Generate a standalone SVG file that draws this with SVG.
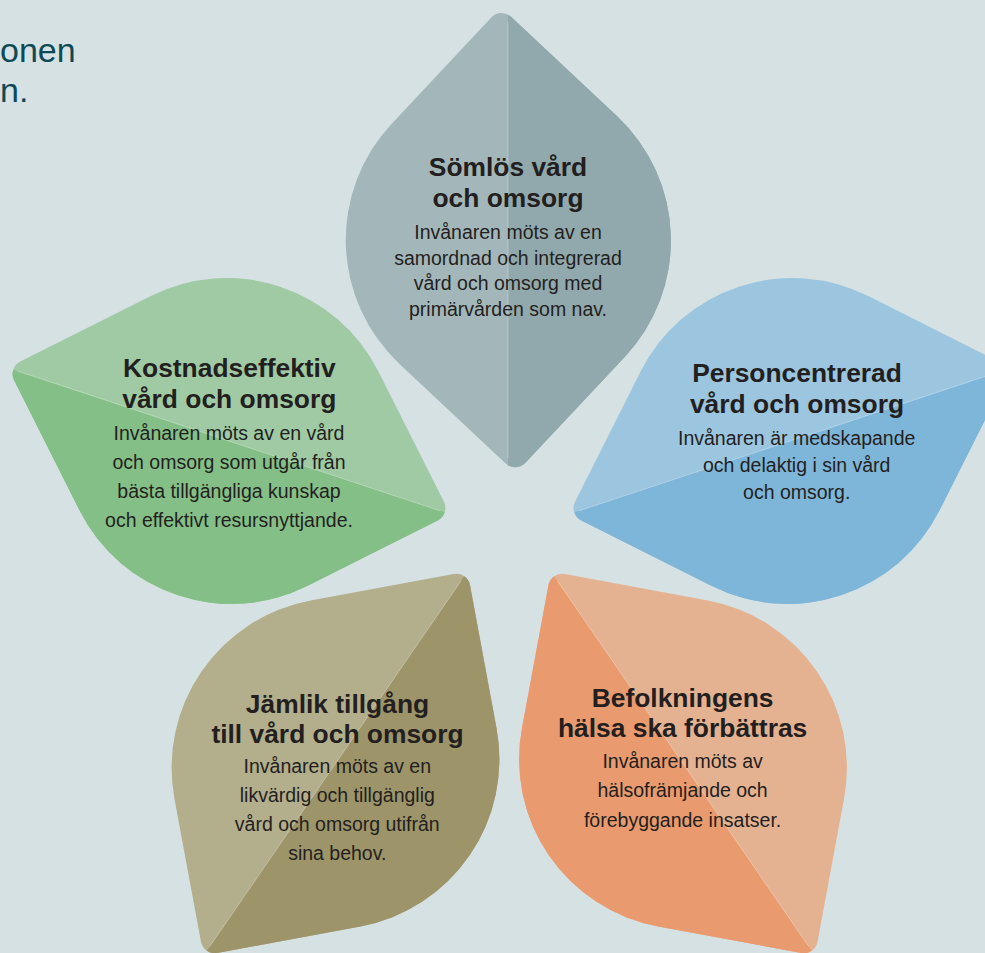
<svg xmlns="http://www.w3.org/2000/svg" xmlns:xlink="http://www.w3.org/1999/xlink" width="985" height="953" viewBox="0 0 985 953">
  <style>
    .title { font-family: "Liberation Sans", Arial, sans-serif; font-weight: bold; font-size: 26.4px; fill: #231f20; text-anchor: middle; }
    .body { font-family: "Liberation Sans", Arial, sans-serif; font-size: 19.5px; fill: #231f20; text-anchor: middle; }
    .intro { font-family: "Liberation Sans", Arial, sans-serif; font-size: 34px; fill: #0d4a56; }
    .seam { stroke: #ffffff; stroke-opacity: 0.35; stroke-width: 0.8; fill: none; }
  </style>
  <defs>
    <path id="petal" d="M-223.1,9.9 A14,14 0 0 1 -223.1,-9.9 L-120.2,-112.8 A170,170 0 0 1 120.2,-112.8 L223.1,-9.9 A14,14 0 0 1 223.1,9.9 L120.2,112.8 A170,170 0 0 1 -120.2,112.8 Z"/>
    <path id="hn" d="M-227.2,0 A14,14 0 0 1 -223.1,-9.9 L-120.2,-112.8 A170,170 0 0 1 120.2,-112.8 L223.1,-9.9 A14,14 0 0 1 227.2,0 Z"/>
    <path id="hp" d="M-227.2,0 A14,14 0 0 0 -223.1,9.9 L-120.2,112.8 A170,170 0 0 0 120.2,112.8 L223.1,9.9 A14,14 0 0 0 227.2,0 Z"/>
    <clipPath id="clipTop" clipPathUnits="userSpaceOnUse">
      <rect x="508" y="0" width="220" height="490"/>
    </clipPath>
  </defs>

  <rect x="0" y="0" width="985" height="953" fill="#d5e1e3"/>

  <g id="intro">
    <text class="intro" x="0" y="61.7">onen</text>
    <text class="intro" x="0" y="101.7">n.</text>
  </g>

  <g id="petal-somlos">
    <use xlink:href="#petal" href="#petal" transform="translate(508.35,240.15) rotate(-91.85)" fill="#a3b7ba"/>
    <g clip-path="url(#clipTop)">
      <use xlink:href="#petal" href="#petal" transform="translate(508.35,240.15) rotate(-91.85)" fill="#91a9ad"/>
    </g>
    <line class="seam" x1="508" y1="22" x2="508" y2="458"/>
    <text class="title" x="508" y="176">Sömlös vård</text>
    <text class="title" x="508" y="206.5">och omsorg</text>
    <text class="body" x="508" y="239">Invånaren möts av en</text>
    <text class="body" x="508" y="264.5">samordnad och integrerad</text>
    <text class="body" x="508" y="290">vård och omsorg med</text>
    <text class="body" x="508" y="315.5">primärvården som nav.</text>
  </g>

  <g id="petal-kostnad">
    <g transform="translate(229,441) rotate(198.3)">
      <use xlink:href="#petal" href="#petal" fill="#9fcaa3"/>
      <use xlink:href="#hn" href="#hn" fill="#85bf88"/>
      <line class="seam" x1="-222" y1="0" x2="222" y2="0"/>
    </g>
    <text class="title" x="229.3" y="377.3">Kostnadseffektiv</text>
    <text class="title" x="229.3" y="407.7">vård och omsorg</text>
    <text class="body" x="229" y="440">Invånaren möts av en vård</text>
    <text class="body" x="229" y="469">och omsorg som utgår från</text>
    <text class="body" x="229" y="498.3">bästa tillgängliga kunskap</text>
    <text class="body" x="229" y="527.3">och effektivt resursnyttjande.</text>
  </g>

  <g id="petal-person">
    <g transform="translate(790,441) rotate(-18.3)">
      <use xlink:href="#petal" href="#petal" fill="#9cc5df"/>
      <use xlink:href="#hp" href="#hp" fill="#7eb6da"/>
      <line class="seam" x1="-222" y1="0" x2="222" y2="0"/>
    </g>
    <text class="title" x="797" y="381.7">Personcentrerad</text>
    <text class="title" x="797" y="413.3">vård och omsorg</text>
    <text class="body" x="796.7" y="445">Invånaren är medskapande</text>
    <text class="body" x="796.7" y="471.7">och delaktig i sin vård</text>
    <text class="body" x="796.7" y="499.3">och omsorg.</text>
  </g>

  <g id="petal-jamlik">
    <g transform="translate(335.5,763.5) rotate(124.5)">
      <use xlink:href="#petal" href="#petal" fill="#b3ae8c"/>
      <use xlink:href="#hn" href="#hn" fill="#9e9469"/>
      <line class="seam" x1="-222" y1="0" x2="222" y2="0"/>
    </g>
    <text class="title" x="337.5" y="712.7">Jämlik tillgång</text>
    <text class="title" x="337.5" y="742.7">till vård och omsorg</text>
    <text class="body" x="337.3" y="773.3">Invånaren möts av en</text>
    <text class="body" x="337.3" y="801.7">likvärdig och tillgänglig</text>
    <text class="body" x="337.3" y="830.7">vård och omsorg utifrån</text>
    <text class="body" x="337.3" y="860">sina behov.</text>
  </g>

  <g id="petal-befolkning">
    <g transform="translate(683,763.5) rotate(55.5)">
      <use xlink:href="#petal" href="#petal" fill="#e5b291"/>
      <use xlink:href="#hp" href="#hp" fill="#e99a6e"/>
      <line class="seam" x1="-222" y1="0" x2="222" y2="0"/>
    </g>
    <text class="title" x="682.6" y="707.3">Befolkningens</text>
    <text class="title" x="682.6" y="736.7">hälsa ska förbättras</text>
    <text class="body" x="682.6" y="768.3">Invånaren möts av</text>
    <text class="body" x="682.6" y="797.3">hälsofrämjande och</text>
    <text class="body" x="682.6" y="826.7">förebyggande insatser.</text>
  </g>

  <g id="connectors"></g>
</svg>
